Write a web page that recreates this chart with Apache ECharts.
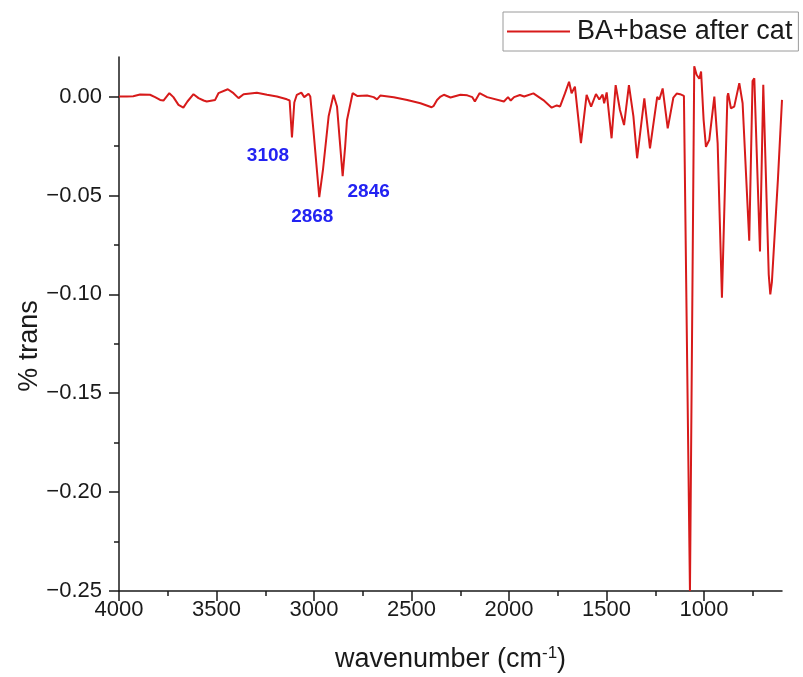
<!DOCTYPE html>
<html><head><meta charset="utf-8">
<script src="https://cdn.jsdelivr.net/npm/echarts@6/dist/echarts.min.js"></script>
<style>html,body{margin:0;padding:0;background:#fff}#c{width:803px;height:677px}</style>
</head><body><div id="c"></div>
<script>
const seriesName = 'BA+base after cat';
const wavenumber = [4000,3960,3927,3892,3841,3815,3789,3772,3742,3721,3695,3670,3649,3618,3592,3566,3550,3507,3490,3442,3413,3387,3361,3293,3241,3190,3139,3125,3113,3101,3088,3065,3050,3028,3019,3003,2973,2954,2925,2900,2882,2868,2853,2840,2831,2802,2779,2728,2694,2677,2660,2591,2522,2454,2397,2386,2369,2351,2334,2300,2249,2214,2188,2175,2151,2112,2026,2005,1991,1974,1944,1922,1875,1824,1781,1755,1738,1713,1692,1679,1662,1631,1602,1579,1554,1537,1520,1512,1499,1474,1453,1431,1410,1385,1362,1343,1306,1277,1240,1229,1212,1186,1157,1140,1123,1103,1097,1072,1050,1038,1024,1015,1002,990,973,947,930,908,880,876,862,845,819,802,768,751,742,713,696,668,660,652,621,600];
const trans = [0.0000,0.0000,0.0002,0.0010,0.0009,-0.0003,-0.0017,-0.0020,0.0017,-0.0003,-0.0042,-0.0056,-0.0025,0.0012,-0.0008,-0.0020,-0.0025,-0.0017,0.0017,0.0037,0.0017,-0.0008,0.0012,0.0019,0.0009,0.0000,-0.0014,-0.0020,-0.0207,-0.0030,0.0009,0.0020,-0.0003,0.0014,0.0000,-0.0170,-0.0509,-0.0370,-0.0100,0.0009,-0.0050,-0.0220,-0.0403,-0.0250,-0.0120,0.0017,0.0003,0.0005,-0.0003,-0.0014,0.0005,-0.0003,-0.0017,-0.0034,-0.0054,-0.0047,-0.0017,0.0000,0.0009,-0.0005,0.0009,0.0006,-0.0003,-0.0025,0.0017,-0.0003,-0.0025,-0.0003,-0.0020,-0.0003,0.0008,0.0000,0.0016,-0.0018,-0.0056,-0.0045,-0.0050,0.0016,0.0075,0.0017,0.0050,-0.0236,0.0008,-0.0051,0.0013,-0.0015,0.0010,-0.0034,0.0021,-0.0211,0.0058,-0.0068,-0.0144,0.0058,-0.0100,-0.0312,-0.0009,-0.0262,-0.0002,-0.0015,0.0041,-0.0161,-0.0005,0.0015,0.0012,0.0003,0.0000,-0.2500,0.0153,0.0110,0.0090,0.0127,-0.0118,-0.0254,-0.0220,0.0000,-0.0237,-0.1017,0.0000,0.0017,-0.0059,-0.0051,0.0068,-0.0034,-0.0729,0.0078,0.0093,-0.0783,0.0060,-0.0900,-0.1000,-0.0940,-0.0420,-0.0017];
const xMajorTicks = [4000,3500,3000,2500,2000,1500,1000];
const xMinorTicks = [3750,3250,2750,2250,1750,1250,750];
const yMajorTicks = [0,-0.05,-0.10,-0.15,-0.20,-0.25];
const yMinorTicks = [-0.025,-0.075,-0.125,-0.175,-0.225];
const peakLabels = ['3108','2868','2846'];
const peakWavenumber = [3113,2973,2853];
const peakTrans = [-0.0207,-0.0509,-0.0403];

const FONT = "'Liberation Sans', Arial, sans-serif";
const AXIS_COLOR = '#1a1a1a';
const LINE_COLOR = '#d71a1a';
const labelOffsets = [[-24,18],[-7,20],[26,16]];

const chart = echarts.init(document.getElementById('c'), null, {renderer:'canvas'});
const seriesData = wavenumber.map((w,i)=>[w, trans[i]]);
const fmtY = v => { const a = Math.abs(v).toFixed(2); return (v < -1e-9 ? '\u2212' : '') + a; };
const fmtX = v => String(Math.round(v));

const baseX = {type:'value', min:600, max:4000, inverse:true, splitLine:{show:false}};
const baseY = {type:'value', min:-0.25, max:0.02, splitLine:{show:false}};

chart.setOption({
  animation:false,
  backgroundColor:'#fff',
  grid:{left:119, right:21, top:57, bottom:86, containLabel:false, outerBoundsMode:'none'},
  legend:{
    left:503, top:12, data:[seriesName],
    icon:'rect', itemWidth:63, itemHeight:2, itemGap:0,
    padding:[6,6,6,4],
    borderColor:'#9a9a9a', borderWidth:1, borderRadius:0,
    textStyle:{fontFamily:FONT, fontSize:27, color:'#1a1a1a', padding:[0,0,0,2]}
  },
  xAxis:[
    Object.assign({}, baseX, {
      position:'bottom',
      name:'wavenumber (cm{sup|-1})', nameLocation:'middle', nameGap:54,
      nameTextStyle:{fontFamily:FONT, fontSize:27, color:'#1a1a1a',
        rich:{sup:{fontFamily:FONT, fontSize:17, color:'#1a1a1a', verticalAlign:'top', padding:[0,0,12,0]}}},
      axisLine:{show:true, onZero:false, lineStyle:{color:AXIS_COLOR, width:1.5}},
      axisTick:{show:true, length:10, inside:false, customValues:xMajorTicks, lineStyle:{color:AXIS_COLOR, width:1.5}},
      axisLabel:{show:true, customValues:xMajorTicks, formatter:fmtX, margin:8, fontFamily:FONT, fontSize:22, color:'#1a1a1a'}
    }),
    Object.assign({}, baseX, {
      position:'bottom',
      axisLine:{show:false, onZero:false},
      axisTick:{show:true, length:5, customValues:xMinorTicks, lineStyle:{color:AXIS_COLOR, width:1.5}},
      axisLabel:{show:false}
    })
  ],
  yAxis:[
    Object.assign({}, baseY, {
      position:'left',
      axisLine:{show:true, onZero:false, lineStyle:{color:AXIS_COLOR, width:1.5}},
      axisTick:{show:true, length:10, customValues:yMajorTicks, lineStyle:{color:AXIS_COLOR, width:1.5}},
      axisLabel:{show:true, customValues:yMajorTicks, margin:17, formatter:fmtY, fontFamily:FONT, fontSize:22, color:'#1a1a1a'}
    }),
    Object.assign({}, baseY, {
      position:'left',
      axisLine:{show:false, onZero:false},
      axisTick:{show:true, length:5, customValues:yMinorTicks, lineStyle:{color:AXIS_COLOR, width:1.5}},
      axisLabel:{show:false}
    })
  ],
  graphic:[{
    type:'text', x:30, y:346, rotation:Math.PI/2,
    style:{text:'% trans', font:'27px ' + FONT, fill:'#1a1a1a',
      textAlign:'center', textVerticalAlign:'middle', align:'center', verticalAlign:'middle'}
  }],
  series:[{
    name:seriesName, type:'line', data:seriesData, xAxisIndex:0, yAxisIndex:0,
    symbol:'none', showSymbol:false, smooth:false, clip:true,
    lineStyle:{color:LINE_COLOR, width:2}, itemStyle:{color:LINE_COLOR},
    markPoint:{
      symbol:'circle', symbolSize:1, itemStyle:{color:'rgba(0,0,0,0)'},
      label:{show:true, position:'inside', formatter:'{b}', fontFamily:FONT, fontSize:19, fontWeight:'bold', color:'#2323f2'},
      data: peakLabels.map((t,i)=>({name:t, coord:[peakWavenumber[i], peakTrans[i]], label:{offset:labelOffsets[i]}}))
    }
  }]
});
</script></body></html>
